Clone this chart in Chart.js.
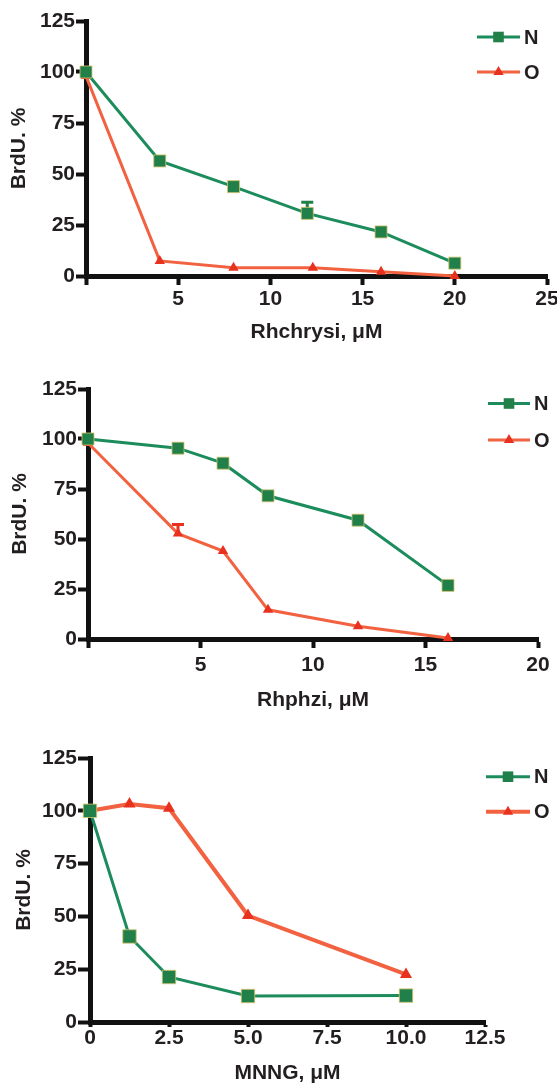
<!DOCTYPE html>
<html lang="en">
<head>
  <meta charset="UTF-8">
  <title>BrdU %</title>
  <script src="https://cdn.jsdelivr.net/npm/chart.js@4"></script>
  <style>
    body {
      margin: 0;
      background: #fff;
      width: 557px;
      height: 1085px;
      overflow: hidden;
      position: relative;
    }
    canvas {
      position: absolute;
      left: 0;
    }
  </style>
</head>
<body>

  <canvas id="c1" width="557" height="345" style="top:0px"></canvas>
  <canvas id="c2" width="557" height="368" style="top:345px"></canvas>
  <canvas id="c3" width="557" height="373" style="top:713px"></canvas>

  <script>
    // --- data ---
    const seriesNames = ['N', 'O'];
    const yTicks = ['0', '25', '50', '75', '100', '125'];

    // panel 1 : Rhchrysi
    const rhcX_N = [0, 4, 8, 12, 16, 20];
    const rhcN = [100, 56.4, 43.8, 30.7, 21.6, 6.3];
    const rhcN_err = [0, 0, 0, 5.5, 0, 0];
    const rhcX_O = [0, 4, 8, 12.3, 16, 20];
    const rhcO = [98, 7.4, 4.1, 4.1, 2.1, 0];
    const rhcXTicks = ['', '5', '10', '15', '20', '25'];

    // panel 2 : Rhphzi
    const rhpX = [0, 4, 6, 8, 12, 16];
    const rhpN = [100, 95.4, 87.9, 71.6, 59.4, 26.8];
    const rhpO = [98, 52.7, 44, 14.6, 6.4, 0.5];
    const rhpO_err = [0, 4.5, 0, 0, 0, 0];
    const rhpXTicks = ['', '5', '10', '15', '20'];

    // panel 3 : MNNG
    const mnngX = [0, 1.25, 2.5, 5, 10];
    const mnngN = [100, 40.5, 21.3, 12.3, 12.5];
    const mnngO = [100, 103.2, 101.2, 50.4, 22.5];
    const mnngXTicks = ['0', '2.5', '5.0', '7.5', '10.0', '12.5'];

    const FONT = "'Liberation Sans', Arial, Helvetica, sans-serif";
    const INK = '#231f20';
    const GREEN_LINE = '#1c8c5c';
    const GREEN_MARK = '#21804a';
    const RED_LINE = '#f26240';
    const RED_MARK = '#e8311f';

    function pts(xs, ys) {
      return xs.map((x, i) => ({ x: x, y: ys[i] }));
    }

    function drawMarker(ctx, style, x, y, r, color) {
      ctx.fillStyle = color;
      ctx.beginPath();
      if (style === 'rect') {
        const s = Math.SQRT1_2 * r;
        ctx.rect(x - s, y - s, 2 * s, 2 * s);
      } else {
        let a = 0;
        ctx.moveTo(x + Math.sin(a) * r, y - Math.cos(a) * r);
        a += Math.PI * 2 / 3;
        ctx.lineTo(x + Math.sin(a) * r, y - Math.cos(a) * r);
        a += Math.PI * 2 / 3;
        ctx.lineTo(x + Math.sin(a) * r, y - Math.cos(a) * r);
        ctx.closePath();
      }
      ctx.fill();
    }

    // upper error bars, under the markers
    const errorBars = {
      id: 'errorBars',
      beforeDatasetsDraw(chart) {
        const ctx = chart.ctx;
        const xs = chart.scales.x, ys = chart.scales.y;
        chart.data.datasets.forEach(ds => {
          if (!ds.errUp) return;
          ds.data.forEach((p, i) => {
            const e = ds.errUp[i];
            if (!e) return;
            const px = xs.getPixelForValue(p.x);
            const y0 = ys.getPixelForValue(p.y);
            const y1 = ys.getPixelForValue(p.y + e);
            ctx.save();
            ctx.strokeStyle = ds.pointBackgroundColor;
            ctx.lineWidth = 3;
            ctx.beginPath();
            ctx.moveTo(px, y0);
            ctx.lineTo(px, y1);
            ctx.moveTo(px - 6, y1);
            ctx.lineTo(px + 6, y1);
            ctx.stroke();
            ctx.restore();
          });
        });
      }
    };

    // legend on the upper right, like the original
    const sideLegend = {
      id: 'sideLegend',
      afterDraw(chart, args, opts) {
        const ctx = chart.ctx;
        chart.data.datasets.forEach((ds, i) => {
          const y = opts.y + i * opts.dy;
          ctx.save();
          ctx.strokeStyle = ds.borderColor;
          ctx.lineWidth = ds.borderWidth;
          ctx.beginPath();
          ctx.moveTo(opts.x0, y);
          ctx.lineTo(opts.x1, y);
          ctx.stroke();
          drawMarker(ctx, ds.pointStyle, (opts.x0 + opts.x1) / 2, y, ds.pointStyle === 'rect' ? 7.5 : 6, ds.pointBackgroundColor);
          ctx.fillStyle = INK;
          ctx.font = 'bold 20px ' + FONT;
          ctx.textAlign = 'left';
          ctx.textBaseline = 'middle';
          ctx.fillText(ds.label, opts.tx, y + 1);
          ctx.restore();
        });
      }
    };

    function nSet(data, r, err) {
      return {
        label: seriesNames[0], data: data, showLine: true,
        borderColor: GREEN_LINE, borderWidth: 3,
        pointStyle: 'rect', pointRadius: r,
        pointBackgroundColor: GREEN_MARK, pointBorderColor: 'rgba(215,195,110,0.8)', pointBorderWidth: 1,
        errUp: err, clip: false
      };
    }

    function oSet(data, r, w, err) {
      return {
        label: seriesNames[1], data: data, showLine: true,
        borderColor: RED_LINE, borderWidth: w,
        pointStyle: 'triangle', pointRadius: r,
        pointBackgroundColor: RED_MARK, pointBorderWidth: 0,
        errUp: err, clip: false
      };
    }

    function makePanel(id, datasets, xTicks, xMax, xStep, xTitle, lay) {
      return new Chart(document.getElementById(id), {
        type: 'scatter',
        data: { datasets: datasets },
        plugins: [errorBars, sideLegend],
        options: {
          responsive: false,
          animation: false,
          layout: { padding: { top: lay.top, right: lay.right, bottom: 0, left: 0 } },
          plugins: {
            legend: { display: false },
            tooltip: { enabled: false },
            sideLegend: lay.legend
          },
          scales: {
            x: {
              type: 'linear', min: 0, max: xMax,
              afterFit: s => { s.height = lay.xH; s.paddingLeft = 0; s.paddingRight = 0; },
              border: { display: true, color: '#111', width: 5 },
              grid: { drawOnChartArea: false, drawTicks: true, tickLength: lay.xTl, tickWidth: 4, tickColor: '#111' },
              ticks: {
                stepSize: xStep, padding: lay.xTp, color: INK, maxRotation: 0, autoSkip: false,
                font: { family: FONT, size: 21, weight: 'bold' },
                callback: (v, i) => xTicks[i]
              },
              title: {
                display: true, text: xTitle, color: INK, padding: { top: 0, bottom: 0 },
                font: { family: FONT, size: 21, weight: 'bold' }
              }
            },
            y: {
              min: 0, max: 125,
              afterFit: s => { s.width = lay.yW; s.paddingTop = 0; s.paddingBottom = 0; },
              border: { display: true, color: '#111', width: 5 },
              grid: { drawOnChartArea: false, drawTicks: true, tickLength: lay.yTl, tickWidth: 4, tickColor: '#111' },
              ticks: {
                stepSize: 25, padding: 1, color: INK, autoSkip: false,
                font: { family: FONT, size: 21, weight: 'bold' },
                callback: (v, i) => yTicks[i]
              },
              title: {
                display: true, text: 'BrdU. %', color: INK, padding: { top: lay.yTitle, bottom: 0 },
                font: { family: FONT, size: 21, weight: 'bold' }
              }
            }
          }
        }
      });
    }

    makePanel('c1',
      [nSet(pts(rhcX_N, rhcN), 8.5, rhcN_err), oSet(pts(rhcX_O, rhcO), 6, 3, null)],
      rhcXTicks, 25, 5, 'Rhchrysi, \u03bcM',
      { top: 21, right: 10, xH: 69, yW: 86, xTl: 9, xTp: 2, yTl: 10, yTitle: 7,
        legend: { x0: 477, x1: 520, tx: 524, y: 37, dy: 35 } });

    makePanel('c2',
      [nSet(pts(rhpX, rhpN), 8.5, null), oSet(pts(rhpX, rhpO), 6, 3, rhpO_err)],
      rhpXTicks, 20, 5, 'Rhphzi, \u03bcM',
      { top: 44, right: 19, xH: 74, yW: 88, xTl: 9, xTp: 5, yTl: 10, yTitle: 8,
        legend: { x0: 488, x1: 530, tx: 534, y: 58.5, dy: 36.5 } });

    makePanel('c3',
      [nSet(pts(mnngX, mnngN), 9.5, null), oSet(pts(mnngX, mnngO), 7, 4, null)],
      mnngXTicks, 12.5, 2.5, 'MNNG, \u03bcM',
      { top: 45, right: 72, xH: 64, yW: 90, xTl: 5, xTp: -1, yTl: 12, yTitle: 12,
        legend: { x0: 486, x1: 530, tx: 534, y: 63.7, dy: 35 } });
  </script>
</body>
</html>
